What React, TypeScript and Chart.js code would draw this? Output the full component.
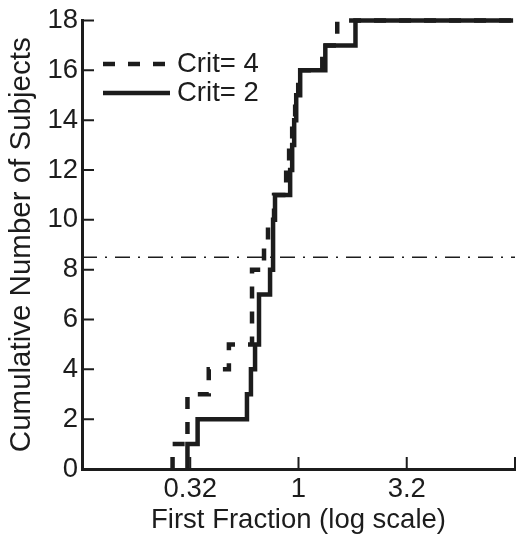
import React, { useEffect, useRef } from "react";
import { Chart, registerables } from "chart.js";

Chart.register(...registerables);

// x positions where each cumulative step occurs (one subject per step)
const crit4Steps = [0.262, 0.307, 0.307, 0.385, 0.477, 0.61, 0.61, 0.61, 0.693, 0.723, 0.771, 0.877, 0.905, 0.935, 0.965, 0.997, 1.288, 1.51];
const crit2Steps = [0.307, 0.342, 0.578, 0.603, 0.63, 0.657, 0.657, 0.739, 0.763, 0.763, 0.779, 0.915, 0.935, 0.955, 0.976, 1.018, 1.33, 1.833];
const xLast = 9.8;
const referenceLevel = 8.5;
const xMin = 0.1;
const xMax = 10;
const xTickValues = [0.1, 0.3162, 1, 3.162, 10];
const xTickLabels = ["", "0.32", "1", "3.2", ""];
const yTickValues = [0, 2, 4, 6, 8, 10, 12, 14, 16, 18];
const seriesNames = ["Crit= 4", "Crit= 2"];
const seriesDashes = [[12, 13], []];
const xTitle = "First Fraction (log scale)";
const yTitle = "Cumulative Number of Subjects";

const INK = "#1c1c1c";
const FONT = '"Liberation Sans", Arial, Helvetica, sans-serif';
const FS = 27.5;

function stairs(xs: number[]) {
  const pts: { x: number; y: number }[] = [];
  let c = 0;
  for (const x of xs) {
    pts.push({ x, y: c });
    c += 1;
    pts.push({ x, y: c });
  }
  pts.push({ x: xLast, y: c });
  return pts;
}

const decorPlugin = {
  id: "decor",
  afterDraw(chart: any) {
    const ctx = chart.ctx;
    const xs = chart.scales.x;
    const ys = chart.scales.y;
    const { left, bottom } = chart.chartArea;
    ctx.save();
    ctx.strokeStyle = INK;
    ctx.lineWidth = 2;
    ctx.setLineDash([]);
    ctx.beginPath();
    for (const v of yTickValues) {
      const py = ys.getPixelForValue(v);
      ctx.moveTo(left, py);
      ctx.lineTo(left + 12, py);
    }
    for (const v of xTickValues) {
      const px = xs.getPixelForValue(v);
      ctx.moveTo(px, bottom);
      ctx.lineTo(px, bottom - 12);
    }
    ctx.stroke();

    // legend
    const rows = [64, 93];
    ctx.font = `${FS}px ${FONT}`;
    ctx.fillStyle = INK;
    ctx.textBaseline = "middle";
    ctx.textAlign = "left";
    for (let i = 0; i < 2; i++) {
      const ds = chart.data.datasets[i];
      ctx.lineWidth = ds.borderWidth;
      ctx.lineCap = "butt";
      ctx.setLineDash(ds.borderDash || []);
      ctx.beginPath();
      ctx.moveTo(left + 21, rows[i]);
      ctx.lineTo(left + 88, rows[i]);
      ctx.stroke();
      ctx.fillText(ds.label, left + 95, rows[i]);
    }
    ctx.restore();
  },
};

export default function App() {
  const ref = useRef<HTMLCanvasElement | null>(null);
  useEffect(() => {
    if (!ref.current) return;
    const chart = new Chart(ref.current, {
      type: "line",
      data: {
        datasets: [
          {
            label: seriesNames[0],
            data: stairs(crit4Steps),
            borderColor: INK,
            borderWidth: 4.5,
            borderDash: seriesDashes[0],
            pointRadius: 0,
            tension: 0,
            fill: false,
            clip: 6,
            borderJoinStyle: "miter",
          },
          {
            label: seriesNames[1],
            data: stairs(crit2Steps),
            borderColor: INK,
            borderWidth: 4.5,
            borderDash: seriesDashes[1],
            pointRadius: 0,
            tension: 0,
            fill: false,
            clip: 6,
            borderJoinStyle: "miter",
          },
          {
            label: "ref",
            data: [
              { x: xMin, y: referenceLevel },
              { x: xMax, y: referenceLevel },
            ],
            borderColor: INK,
            borderWidth: 1.4,
            borderDash: [15, 8, 2, 8],
            pointRadius: 0,
            fill: false,
          },
        ],
      },
      options: {
        animation: false,
        responsive: false,
        parsing: true,
        layout: { padding: { top: 18, right: 7, bottom: 0, left: 0 } },
        plugins: { legend: { display: false }, tooltip: { enabled: false } },
        scales: {
          x: {
            type: "logarithmic",
            min: xMin,
            max: xMax,
            afterBuildTicks: (s: any) => {
              s.ticks = xTickValues.map((v) => ({ value: v }));
            },
            afterFit: (s: any) => {
              s.height = 68;
            },
            grid: { display: false, drawTicks: false },
            border: { display: true, color: INK, width: 3 },
            ticks: {
              autoSkip: false,
              maxRotation: 0,
              padding: 4,
              color: INK,
              font: { family: FONT, size: FS },
              callback: (_v: any, i: number) => xTickLabels[i],
            },
            title: {
              display: true,
              text: xTitle,
              color: INK,
              font: { family: FONT, size: 27.5 },
              padding: { top: 0, bottom: 0 },
            },
          },
          y: {
            min: 0,
            max: 18,
            afterBuildTicks: (s: any) => {
              s.ticks = yTickValues.map((v) => ({ value: v }));
            },
            afterFit: (s: any) => {
              s.width = 82;
            },
            grid: { display: false, drawTicks: false },
            border: { display: true, color: INK, width: 3 },
            ticks: {
              padding: 4,
              color: INK,
              font: { family: FONT, size: FS },
            },
            title: {
              display: true,
              text: yTitle,
              color: INK,
              font: { family: FONT, size: 29.5 },
              padding: { top: 4, bottom: 0 },
            },
          },
        },
      },
      plugins: [decorPlugin],
    });
    return () => chart.destroy();
  }, []);
  return (
    <div style={{ position: "absolute", left: 0, top: 0, width: 522, height: 537, background: "#fff" }}>
      <canvas ref={ref} width={522} height={537} />
    </div>
  );
}
